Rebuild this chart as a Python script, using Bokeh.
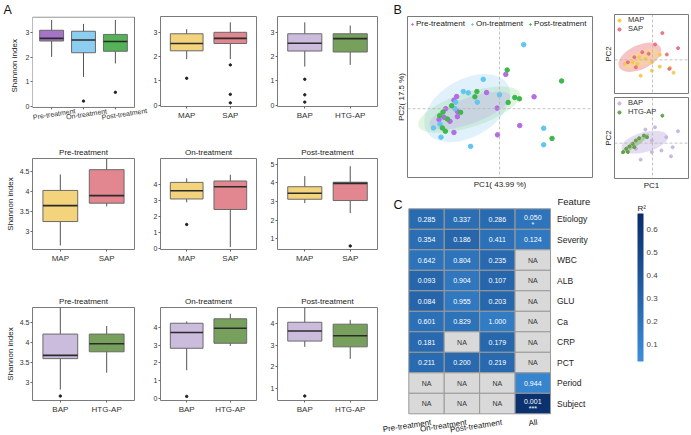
from bokeh.plotting import figure
from bokeh.models import (ColumnDataSource, Span, Legend, LegendItem, FixedTicker,
                          LinearColorMapper, ColorBar, Range1d, Title)
from bokeh.layouts import row, column
from bokeh.transform import dodge
from bokeh.embed import file_html
from bokeh.resources import INLINE

FONT = "Liberation Sans"

# ======================= DATA =======================
# ---- Panel A: Shannon index boxplots ----
periods = ["Pre-treatment", "On-treatment", "Post-treatment"]
severity = ["MAP", "SAP"]
etiology = ["BAP", "HTG-AP"]

# row 1 - all samples
period_q1 = [2.67, 2.19, 2.25]
period_med = [2.78, 2.71, 2.65]
period_q3 = [3.11, 3.07, 2.94]
period_lo = [2.02, 1.20, 1.75]
period_hi = [3.53, 3.37, 3.53]
period_out_g = ["On-treatment", "Post-treatment"]
period_out_v = [0.21, 0.57]

sev_all_q1 = [2.24, 2.54]
sev_all_med = [2.54, 2.75]
sev_all_q3 = [2.94, 3.00]
sev_all_lo = [1.90, 1.90]
sev_all_hi = [3.13, 3.41]
sev_all_out_g = ["MAP", "SAP", "SAP", "SAP"]
sev_all_out_v = [1.11, 1.66, 0.45, 0.10]

eti_all_q1 = [2.23, 2.19]
eti_all_med = [2.55, 2.74]
eti_all_q3 = [2.94, 2.94]
eti_all_lo = [1.59, 1.66]
eti_all_hi = [3.41, 3.28]
eti_all_out_g = ["BAP", "BAP", "BAP"]
eti_all_out_v = [1.07, 0.43, 0.13]

# row 2 - severity within each period
sev_pre_q1 = [3.25, 3.71]
sev_pre_med = [3.65, 3.90]
sev_pre_q3 = [4.03, 4.55]
sev_pre_lo = [2.65, 3.63]
sev_pre_hi = [4.43, 4.95]
sev_pre_out_g = []
sev_pre_out_v = []

sev_on_q1 = [3.12, 2.46]
sev_on_med = [3.64, 3.89]
sev_on_q3 = [4.16, 4.25]
sev_on_lo = [2.91, 0.10]
sev_on_hi = [4.41, 4.64]
sev_on_out_g = ["MAP"]
sev_on_out_v = [1.52]

sev_post_q1 = [3.12, 3.05]
sev_post_med = [3.44, 3.97]
sev_post_q3 = [3.79, 4.03]
sev_post_lo = [2.91, 2.38]
sev_post_hi = [4.36, 4.89]
sev_post_out_g = ["SAP"]
sev_post_out_v = [0.62]

# row 3 - etiology within each period
eti_pre_q1 = [3.60, 3.77]
eti_pre_med = [3.68, 3.97]
eti_pre_q3 = [4.21, 4.21]
eti_pre_lo = [2.83, 3.25]
eti_pre_hi = [4.95, 4.41]
eti_pre_out_g = ["BAP"]
eti_pre_out_v = [2.67]

eti_on_q1 = [2.82, 3.10]
eti_on_med = [3.70, 3.94]
eti_on_q3 = [4.22, 4.47]
eti_on_lo = [1.59, 2.95]
eti_on_hi = [4.32, 4.75]
eti_on_out_g = ["BAP"]
eti_on_out_v = [0.13]

eti_post_q1 = [3.20, 2.93]
eti_post_med = [3.67, 3.45]
eti_post_q3 = [4.08, 3.99]
eti_post_lo = [2.93, 2.37]
eti_post_hi = [4.85, 4.19]
eti_post_out_g = ["BAP"]
eti_post_out_v = [0.63]

# ---- Panel B: PCA ----
pre_pc1 = [0.063, -0.13, -0.43, -0.457, -0.023, 0.347, -0.54, -0.423, -0.497, -0.557, -0.607, -0.423, -0.457, 0.203, -0.02]
pre_pc2 = [0.346, 0.163, 0.123, 0.086, 0.006, 0.12, 0.0, -0.027, -0.127, -0.087, -0.11, -0.08, -0.24, -0.17, -0.264]
on_pc1 = [0.243, -0.163, -0.363, -0.313, 0.0, -0.223, -0.44, -0.447, -0.597, -0.663, -0.587, -0.29, 0.443, 0.443]
on_pc2 = [0.646, 0.296, 0.173, 0.16, 0.14, 0.066, 0.066, 0.0, -0.154, -0.194, -0.287, -0.38, -0.197, -0.364]
post_pc1 = [0.077, 0.623, -0.227, -0.247, 0.153, 0.2, 0.087, -0.48, -0.39, -0.567, -0.6, -0.523, -0.573, -0.543, 0.527]
post_pc2 = [0.39, 0.28, 0.173, 0.12, 0.113, 0.1, 0.063, 0.03, -0.037, -0.034, -0.07, -0.104, -0.194, -0.227, -0.3]

# confidence ellipses (center, full width, full height, angle in rad)
ell_period = ["On-treatment", "Post-treatment", "Pre-treatment"]
ell_period_x = [-0.323, -0.303, -0.298]
ell_period_y = [0.006, -0.010, -0.019]
ell_period_w = [0.94, 1.07, 0.86]
ell_period_h = [0.58, 0.35, 0.26]
ell_period_a = [0.52, 0.31, 0.35]

map_pc1 = [0.076, 0.076, -0.007, 0.183, 0.22, -0.124, -0.14, -0.207, -0.074, -0.29, -0.157, -0.007]
map_pc2 = [0.05, -0.067, -0.107, -0.08, -0.127, -0.157, 0.026, -0.024, 0.01, -0.04, -0.04, -0.024]
sap_pc1 = [0.103, 0.027, 0.15, 0.267, -0.107, -0.19, -0.257, -0.174, -0.04, 0.176]
sap_pc2 = [0.266, 0.153, 0.053, 0.116, 0.076, 0.026, -0.024, -0.074, 0.06, -0.09]
ell_sev = ["SAP", "MAP"]
ell_sev_x = [-0.132, -0.12]
ell_sev_y = [0.026, 0.01]
ell_sev_w = [0.48, 0.40]
ell_sev_h = [0.24, 0.15]
ell_sev_a = [0.44, 0.42]

bap_pc1 = [-0.074, 0.026, 0.266, 0.143, 0.093, 0.21, 0.193, -0.124, -0.007, -0.007, -0.174]
bap_pc2 = [0.137, 0.16, 0.12, 0.06, -0.073, -0.04, -0.133, -0.166, -0.09, 0.027, -0.056]
htg_pc1 = [-0.307, -0.274, -0.24, -0.207, -0.174, -0.14, -0.09, -0.057, 0.103, -0.257, -0.19]
htg_pc2 = [-0.09, -0.056, -0.033, -0.006, 0.027, 0.05, 0.077, 0.06, 0.277, -0.09, -0.04]
ell_eti = ["BAP", "HTG-AP"]
ell_eti_x = [-0.082, -0.184]
ell_eti_y = [0.01, -0.006]
ell_eti_w = [0.50, 0.36]
ell_eti_h = [0.20, 0.06]
ell_eti_a = [0.26, 0.61]

# ---- Panel C: heatmap (p-values as text, R2 as colour) ----
features = ["Etiology", "Severity", "WBC", "ALB", "GLU", "Ca", "CRP", "PCT", "Period", "Subject"]
heat_cols = ["Pre-treatment", "On-treatment", "Post-treatment", "All"]
pv_pre = ["0.285", "0.354", "0.642", "0.093", "0.084", "0.601", "0.181", "0.211", None, None]
pv_on = ["0.337", "0.186", "0.804", "0.904", "0.955", "0.829", None, "0.200", None, None]
pv_post = ["0.286", "0.411", "0.235", "0.107", "0.203", "1.000", "0.179", "0.219", None, None]
pv_all = ["0.050", "0.124", None, None, None, None, None, None, "0.944", "0.001"]
sig_all = ["*", "", "", "", "", "", "", "", "", "***"]
r2_pre = [0.26, 0.24, 0.21, 0.29, 0.30, 0.22, 0.27, 0.26, None, None]
r2_on = [0.24, 0.29, 0.20, 0.18, 0.17, 0.21, None, 0.27, None, None]
r2_post = [0.26, 0.22, 0.27, 0.29, 0.28, 0.15, 0.28, 0.27, None, None]
r2_all = [0.20, 0.17, None, None, None, None, None, None, 0.09, 0.63]
r2_ticks = [0.1, 0.2, 0.3, 0.4, 0.5, 0.6]

# ======================= STYLE / LAYOUT =======================
C_PRE, C_ON, C_POST = "#a574c6", "#8ccdf0", "#56b258"
C_MAP, C_SAP = "#f3d37c", "#e2868f"
C_BAP, C_HTG = "#cbbcdd", "#76a05c"
P_PRE, P_ON, P_POST = "#b56ae6", "#62c6f0", "#3db84b"
OUTLINE = "#7a7a7a"


def make_fig(outer, frame, **kw):
    ox0, oy0, ox1, oy1 = [int(round(v)) for v in outer]
    fx0, fy0, fx1, fy1 = [int(round(v)) for v in frame]
    p = figure(width=ox1 - ox0, height=oy1 - oy0,
               min_border_left=fx0 - ox0, min_border_right=ox1 - fx1,
               min_border_top=fy0 - oy0, min_border_bottom=oy1 - fy1,
               output_backend="svg", toolbar_location=None, **kw)
    p.grid.visible = False
    p.outline_line_color = OUTLINE
    p.outline_line_width = 1
    p.background_fill_color = "white"
    p.border_fill_color = "white"
    for ax in p.axis:
        ax.axis_line_color = None
        ax.minor_tick_line_color = None
        ax.major_tick_line_color = "#666666"
        ax.major_tick_in = 0
        ax.major_tick_out = 2
        ax.major_label_standoff = 1
        ax.major_label_text_font = FONT
        ax.major_label_text_font_size = "7px"
        ax.major_label_text_color = "#333333"
        ax.axis_label_text_font = FONT
        ax.axis_label_text_font_style = "normal"
        ax.axis_label_text_font_size = "8px"
        ax.axis_label_text_color = "#222222"
    p.title.text_font = FONT
    p.title.text_font_style = "normal"
    p.title.text_font_size = "8px"
    p.title.text_color = "#222222"
    p.title.align = "center"
    return p


def panel_letter(p, frame_left, X, text, size="12.5px"):
    p.title.text = text
    p.title.align = "left"
    p.title.offset = int(round(X)) - int(round(frame_left))
    p.title.standoff = 0
    p.title.text_font_size = size
    p.title.text_color = "#111111"


def draw_boxes(p, cats, q1, med, q3, lo, hi, out_g, out_v, colors):
    xs = [i + 1 for i in range(len(cats))]
    src = ColumnDataSource(dict(x=xs, q1=q1, med=med, q3=q3, lo=lo, hi=hi, color=colors))
    p.segment(x0="x", y0="lo", x1="x", y1="hi", source=src, line_color="#555555", line_width=1)
    p.vbar(x="x", width=0.75, bottom="q1", top="q3", source=src, fill_color="color",
           line_color="#6a6a6a", line_width=1)
    p.segment(x0=dodge("x", -0.375), y0="med", x1=dodge("x", 0.375), y1="med", source=src,
              line_color="#2b2b2b", line_width=1.6)
    if out_g:
        p.scatter([cats.index(g) + 1 for g in out_g], out_v, size=2.4, color="#222222")
    return xs


COL_X = [(0, 150), (150, 265), (265, 378)]
COL_F = [(32, 134), (158, 256), (277, 377)]
ROW_Y = [(0, 140), (140, 276), (276, 435)]
ROW_F = [(13, 106), (158, 249), (307, 400)]


def box_panel(ci, ri, cats, q1, med, q3, lo, hi, out_g, out_v, colors, yr, yticks,
              title=None, ylabel=None, ylabel_standoff=2):
    outer = (COL_X[ci][0], ROW_Y[ri][0], COL_X[ci][1], ROW_Y[ri][1])
    frame = (COL_F[ci][0], ROW_F[ri][0], COL_F[ci][1], ROW_F[ri][1])
    p = make_fig(outer, frame, x_range=Range1d(0.4, len(cats) + 0.6), y_range=Range1d(*yr))
    xs = draw_boxes(p, cats, q1, med, q3, lo, hi, out_g, out_v, colors)
    p.xaxis.ticker = FixedTicker(ticks=xs)
    p.xaxis.major_label_overrides = {x: c for x, c in zip(xs, cats)}
    p.xaxis.major_label_text_font_size = "8px"
    p.xaxis.major_label_standoff = 2
    p.yaxis.ticker = FixedTicker(ticks=yticks)
    if title:
        p.title.text = title
        p.title.standoff = 3
    if ylabel:
        p.yaxis.axis_label = ylabel
        p.yaxis.axis_label_standoff = ylabel_standoff
    return p, frame


# ---- Panel A, row 1, first plot: slanted category names ----
# the frame reaches the canvas bottom/right so that the slanted names are drawn inside it;
# the panel border is drawn around the data box
A11_XR = (0.4, len(periods) + 0.6)
A11_YR = (-0.05, 3.65)
BX0, BY0, BX1, BY1 = COL_F[0][0], ROW_F[0][0], COL_F[0][1], ROW_F[0][1]
ux = (BX1 - BX0) / (A11_XR[1] - A11_XR[0])
uy = (BY1 - BY0) / (A11_YR[1] - A11_YR[0])
OX1, OY1 = COL_X[0][1], ROW_Y[0][1]
a11 = make_fig((0, 0, OX1, OY1), (BX0, BY0, OX1, OY1),
               x_range=Range1d(A11_XR[0], A11_XR[1] + (OX1 - BX1) / ux),
               y_range=Range1d(A11_YR[0] - (OY1 - BY1) / uy, A11_YR[1] + 0.6 / uy),
               x_axis_location=None)
a11.frame_align = False
a11.outline_line_color = None
a11.quad(left=[A11_XR[0]], right=[A11_XR[1]], bottom=[A11_YR[0]], top=[A11_YR[1]],
         fill_color=None, line_color=OUTLINE, line_width=1)
xs11 = draw_boxes(a11, periods, period_q1, period_med, period_q3, period_lo, period_hi,
                  period_out_g, period_out_v, [C_PRE, C_ON, C_POST])
a11.segment(x0=xs11, y0=[A11_YR[0]] * 3, x1=xs11, y1=[A11_YR[0] - 2 / uy] * 3, line_color="#666666")
a11.text(x=xs11, y=[A11_YR[0]] * 3, text=periods, angle=0.15, x_offset=[2.5, 3, 9], y_offset=6.5,
         text_align="center", text_baseline="middle", text_font_size="7px", text_color="#333333",
         text_font={"value": FONT})
a11.yaxis.ticker = FixedTicker(ticks=[0, 1, 2, 3])
a11.add_layout(Title(text="Shannon index", align="left", offset=48, standoff=8, text_font=FONT,
                     text_font_size="8px", text_font_style="normal", text_color="#222222"), "left")
panel_letter(a11, BX0, 3, "A")

a12, _ = box_panel(1, 0, severity, sev_all_q1, sev_all_med, sev_all_q3, sev_all_lo, sev_all_hi,
                   sev_all_out_g, sev_all_out_v, [C_MAP, C_SAP], A11_YR, [0, 1, 2, 3])
a13, _ = box_panel(2, 0, etiology, eti_all_q1, eti_all_med, eti_all_q3, eti_all_lo, eti_all_hi,
                   eti_all_out_g, eti_all_out_v, [C_BAP, C_HTG], A11_YR, [0, 1, 2, 3])

a21, _ = box_panel(0, 1, severity, sev_pre_q1, sev_pre_med, sev_pre_q3, sev_pre_lo, sev_pre_hi,
                   sev_pre_out_g, sev_pre_out_v, [C_MAP, C_SAP], (2.55, 4.83), [3.0, 3.5, 4.0, 4.5],
                   title="Pre-treatment", ylabel="Shannon index", ylabel_standoff=2)
a22, _ = box_panel(1, 1, severity, sev_on_q1, sev_on_med, sev_on_q3, sev_on_lo, sev_on_hi,
                   sev_on_out_g, sev_on_out_v, [C_MAP, C_SAP], (-0.05, 5.66), [0, 1, 2, 3, 4],
                   title="On-treatment")
a23, _ = box_panel(2, 1, severity, sev_post_q1, sev_post_med, sev_post_q3, sev_post_lo, sev_post_hi,
                   sev_post_out_g, sev_post_out_v, [C_MAP, C_SAP], (0.43, 5.30), [1, 2, 3, 4, 5],
                   title="Post-treatment")

a31, _ = box_panel(0, 2, etiology, eti_pre_q1, eti_pre_med, eti_pre_q3, eti_pre_lo, eti_pre_hi,
                   eti_pre_out_g, eti_pre_out_v, [C_BAP, C_HTG], (2.56, 4.87), [3.0, 3.5, 4.0, 4.5],
                   title="Pre-treatment", ylabel="Shannon index", ylabel_standoff=2)
a32, _ = box_panel(1, 2, etiology, eti_on_q1, eti_on_med, eti_on_q3, eti_on_lo, eti_on_hi,
                   eti_on_out_g, eti_on_out_v, [C_BAP, C_HTG], (-0.1, 5.1), [0, 1, 2, 3, 4],
                   title="On-treatment")
a33, _ = box_panel(2, 2, etiology, eti_post_q1, eti_post_med, eti_post_q3, eti_post_lo, eti_post_hi,
                   eti_post_out_g, eti_post_out_v, [C_BAP, C_HTG], (0.42, 4.77), [1, 2, 3, 4],
                   title="Post-treatment")


# ---- Panel B ----
def pca_axes(p, xlabel=None, ylabel=None, show_x=True):
    for ax in p.axis:
        ax.ticker = FixedTicker(ticks=[])
        ax.major_tick_out = 0
        ax.major_label_standoff = 0
        ax.axis_label_standoff = 2
    if xlabel:
        p.xaxis.axis_label = xlabel
    if ylabel:
        p.yaxis.axis_label = ylabel
    if not show_x:
        p.xaxis.visible = False
    p.add_layout(Span(location=0, dimension="height", line_color="#b5b5b5", line_dash="3 2", line_width=0.8))
    p.add_layout(Span(location=0, dimension="width", line_color="#b5b5b5", line_dash="3 2", line_width=0.8))


fr_b = (406.7, 14.3, 592.3, 176.7)
b_main = make_fig((378, 0, 600, 195), fr_b, x_range=Range1d(-0.923, 0.933), y_range=Range1d(-0.694, 0.93))
pca_axes(b_main, "PC1( 43.99 %)", "PC2( 17.5 %)")
panel_letter(b_main, fr_b[0], 393, "B")
ell_cols = {"On-treatment": C_ON, "Post-treatment": "#8fd68f", "Pre-treatment": "#c99aea"}
b_main.ellipse(x=ell_period_x, y=ell_period_y, width=ell_period_w, height=ell_period_h, angle=ell_period_a,
               fill_color=[ell_cols[g] for g in ell_period], fill_alpha=0.27, line_color=None)
r_pre = b_main.scatter(pre_pc1, pre_pc2, size=4.5, color=P_PRE)
r_on = b_main.scatter(on_pc1, on_pc2, size=4.5, color=P_ON)
r_post = b_main.scatter(post_pc1, post_pc2, size=4.5, color=P_POST)
leg = Legend(items=[LegendItem(label="Pre-treatment", renderers=[r_pre]),
                    LegendItem(label="On-treatment", renderers=[r_on]),
                    LegendItem(label="Post-treatment", renderers=[r_post])],
             orientation="horizontal", location="top_left", label_text_font=FONT,
             label_text_font_size="8px", label_text_color="#222222", glyph_width=4, glyph_height=8,
             label_standoff=2, spacing=5, padding=2, margin=3, border_line_color=None,
             background_fill_alpha=0)
b_main.add_layout(leg)


def small_legend(p, items):
    p.add_layout(Legend(items=items, orientation="vertical", location="top_left", label_text_font=FONT,
                        label_text_font_size="7.5px", label_text_color="#333333", glyph_width=8,
                        glyph_height=8, label_standoff=5, spacing=0, padding=1, margin=1,
                        border_line_color=None, background_fill_alpha=0))


fr_s1 = (611, 14.3, 688.3, 92.7)
b_s1 = make_fig((600, 0, 691, 95), fr_s1, x_range=Range1d(-0.397, 0.376), y_range=Range1d(-0.334, 0.45))
pca_axes(b_s1, None, "PC2", show_x=False)
ell_sev_cols = {"SAP": "#f08a8e", "MAP": "#f8da86"}
b_s1.ellipse(x=ell_sev_x, y=ell_sev_y, width=ell_sev_w, height=ell_sev_h, angle=ell_sev_a,
             fill_color=[ell_sev_cols[g] for g in ell_sev], fill_alpha=0.5, line_color=None)
r_map = b_s1.scatter(map_pc1, map_pc2, size=3, color="#f2c84a", alpha=0.9)
r_sap = b_s1.scatter(sap_pc1, sap_pc2, size=3, color="#e86a7c", alpha=0.9)
small_legend(b_s1, [LegendItem(label="MAP", renderers=[r_map]), LegendItem(label="SAP", renderers=[r_sap])])

fr_s2 = (611, 96.7, 688.3, 178.3)
b_s2 = make_fig((600, 95, 691, 195), fr_s2, x_range=Range1d(-0.397, 0.376), y_range=Range1d(-0.356, 0.46))
pca_axes(b_s2, "PC1", "PC2")
ell_eti_cols = {"BAP": "#d2c6e8", "HTG-AP": "#8cbd74"}
b_s2.ellipse(x=ell_eti_x, y=ell_eti_y, width=ell_eti_w, height=ell_eti_h, angle=ell_eti_a,
             fill_color=[ell_eti_cols[g] for g in ell_eti], fill_alpha=0.6, line_color=None)
r_bap = b_s2.scatter(bap_pc1, bap_pc2, size=3, color="#c4b2de", alpha=0.9)
r_htg = b_s2.scatter(htg_pc1, htg_pc2, size=3, color="#5f9a45", alpha=0.9)
small_legend(b_s2, [LegendItem(label="BAP", renderers=[r_bap]), LegendItem(label="HTG-AP", renderers=[r_htg])])

# ---- Panel C ----
# whole canvas is the plotting frame: cells occupy [0, ncols] x [0, nrows];
# the ranges are widened so that labels around the grid stay inside the frame
HX0, HY0, HX1, HY1 = 378, 195, 691, 435          # canvas box (page px)
GX0, GY0, GX1, GY1 = 408.3, 208.3, 550, 413.3    # cell grid box (page px)
ncol, nrow = len(heat_cols), len(features)
cw = (GX1 - GX0) / ncol
rh = (GY1 - GY0) / nrow
heat = figure(width=HX1 - HX0, height=HY1 - HY0, min_border=0,
              x_range=Range1d(-(GX0 - HX0) / cw, ncol + (HX1 - GX1) / cw),
              y_range=Range1d(-(HY1 - GY1) / rh, nrow + (GY0 - HY0) / rh),
              x_axis_location=None, y_axis_location=None,
              output_backend="svg", toolbar_location=None)
heat.frame_align = False
heat.grid.visible = False
heat.outline_line_color = None
heat.background_fill_color = "white"
heat.border_fill_color = "white"

lo_c, hi_c = (0x3c, 0x8f, 0xda), (0x08, 0x2c, 0x68)
palette = ["#%02x%02x%02x" % tuple(int(round(a + (b - a) * i / 255)) for a, b in zip(lo_c, hi_c))
           for i in range(256)]
mapper = LinearColorMapper(palette=palette, low=0.024, high=0.672, nan_color="#d9d9d9")

cx, cy, cr2, ctext, ctcol, coff = [], [], [], [], [], []
stx, sty, stext = [], [], []
for j, (pvs, r2s) in enumerate(zip([pv_pre, pv_on, pv_post, pv_all], [r2_pre, r2_on, r2_post, r2_all])):
    for i, f in enumerate(features):
        xc, yc = j + 0.5, nrow - 1 - i + 0.5
        cx.append(xc)
        cy.append(yc)
        cr2.append(float("nan") if r2s[i] is None else r2s[i])
        ctext.append("NA" if pvs[i] is None else pvs[i])
        ctcol.append("#333333" if pvs[i] is None else "#ffffff")
        star = sig_all[i] if heat_cols[j] == "All" else ""
        coff.append(-2 if star else 0)
        if star:
            stx.append(xc)
            sty.append(yc)
            stext.append(star)

hsrc = ColumnDataSource(dict(x=cx, y=cy, r2=cr2, text=ctext, tcol=ctcol, off=coff))
heat.rect(x="x", y="y", width=1, height=1, source=hsrc,
          fill_color={"field": "r2", "transform": mapper}, line_color="#9a9a9a", line_width=1)
heat.text(x="x", y="y", text="text", source=hsrc, text_color="tcol", text_font_size="7px",
          text_align="center", text_baseline="middle", y_offset="off", text_font={"value": FONT})
heat.text(x=stx, y=sty, text=stext, text_color="#ffffff", text_font_size="7px",
          text_align="center", text_baseline="middle", y_offset=5, text_font={"value": FONT})
# row labels (right of grid)
heat.text(x=[ncol] * nrow, y=[nrow - 1 - i + 0.5 for i in range(nrow)], text=features,
          x_offset=6.5, text_align="left", text_baseline="middle", text_font_size="8.5px",
          text_color="#222222", text_font={"value": FONT})
# column labels (below grid, rotated)
heat.text(x=[j + 0.5 for j in range(ncol)], y=[0] * ncol, text=heat_cols, angle=0.15,
          x_offset=4, y_offset=4, text_align="right", text_baseline="top", text_font_size="8px",
          text_color="#222222", text_font={"value": FONT})
heat.text(x=[ncol], y=[nrow], text=["Feature"], x_offset=7, y_offset=-13, text_align="left",
          text_baseline="top", text_font_size="9.5px", text_color="#222222", text_font={"value": FONT})
heat.text(x=[0], y=[nrow], text=["C"], x_offset=393 - GX0, y_offset=197 - GY0, text_align="left",
          text_baseline="top", text_font_size="12.5px", text_color="#111111", text_font={"value": FONT})
heat.text(x=[ncol], y=[nrow], text=["R²"], x_offset=637 - GX1, y_offset=203 - GY0, text_align="left",
          text_baseline="top", text_font_size="8px", text_color="#222222", text_font={"value": FONT})
cb = ColorBar(color_mapper=mapper, ticker=FixedTicker(ticks=r2_ticks), width=6, height=361 - 213,
              major_label_text_font=FONT, major_label_text_font_size="8px", label_standoff=3,
              major_tick_line_color=None, bar_line_color=None, padding=0, margin=0,
              location=(637 - HX0, HY1 - 361), background_fill_alpha=0, border_line_color=None)
heat.add_layout(cb)

left_col = column(row(a11, a12, a13), row(a21, a22, a23), row(a31, a32, a33))
right_col = column(row(b_main, column(b_s1, b_s2)), heat)
page = row(left_col, right_col)

open("out.html", "w").write(file_html(page, INLINE, title="Shannon diversity and PCA"))
